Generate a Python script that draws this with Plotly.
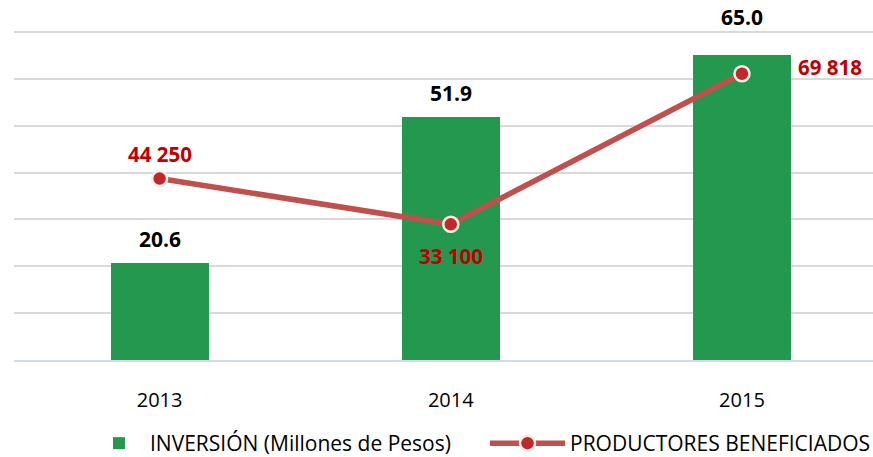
import plotly.graph_objects as go

years = ["2013", "2014", "2015"]
inversion = [20.6, 51.9, 65.0]
productores = [44250, 33100, 69818]
productores_labels = ["44 250", "33 100", "69 818"]
inv_name = "INVERSIÓN (Millones de Pesos)"
prod_name = "PRODUCTORES BENEFICIADOS"

FONT = "Open Sans"
Y_MAX = 70.43
Y2_MAX = 80000 * Y_MAX / 70

fig = go.Figure()
fig.add_trace(go.Bar(
    x=years, y=inversion, name=inv_name, legend="legend",
    marker=dict(color="#25984f", line=dict(width=0)),
    width=0.336,
))
fig.add_trace(go.Scatter(
    x=years, y=productores, name=prod_name, yaxis="y2", legend="legend2",
    mode="lines+markers",
    line=dict(color="#c0504d", width=5.5),
    marker=dict(size=15, color="#c0282d", line=dict(color="#f3efe4", width=2.5)),
))

annotations = []
bar_shift = [8, 8, 22]
for i, (v, s) in enumerate(zip(inversion, bar_shift)):
    annotations.append(dict(x=i, y=v, xref="x", yref="y", text=f"<b>{v:.1f}</b>",
                            showarrow=False, yanchor="bottom", yshift=s,
                            font=dict(family=FONT, size=21, color="#000000")))
label_pos = [dict(yanchor="bottom", yshift=9, xshift=0, xanchor="center"),
             dict(yanchor="top", yshift=-16, xshift=0, xanchor="center"),
             dict(yanchor="middle", yshift=7, xshift=54, xanchor="left")]
for i, (v, t, p) in enumerate(zip(productores, productores_labels, label_pos)):
    annotations.append(dict(x=i, y=v, xref="x", yref="y2", text=f"<b>{t}</b>",
                            showarrow=False,
                            font=dict(family=FONT, size=20.5, color="#c00000"),
                            yanchor=p["yanchor"], yshift=p["yshift"],
                            xanchor=p["xanchor"], xshift=p["xshift"]))

legend_font = dict(family=FONT, size=21, color="#000000")
fig.update_layout(
    annotations=annotations,
    width=873, height=457,
    margin=dict(l=14, r=0, t=30, b=97, autoexpand=False),
    paper_bgcolor="white", plot_bgcolor="white",
    font=dict(family=FONT, size=18, color="#000000"),
    showlegend=True,
    legend=dict(orientation="h", x=(88 - 14) / 859, xanchor="left", y=-0.253, yanchor="middle",
                font=legend_font, itemwidth=52, bgcolor="rgba(0,0,0,0)"),
    legend2=dict(orientation="h", x=(485 - 14) / 859, xanchor="left", y=-0.253, yanchor="middle",
                 font=legend_font, itemwidth=75, bgcolor="rgba(0,0,0,0)"),
    xaxis=dict(type="category", range=[-0.5, 2.45], showgrid=False, showline=True,
               linecolor="#d0dcec", linewidth=1.5, ticks="", ticklabelstandoff=21,
               tickfont=dict(family=FONT, size=20, color="#000000")),
    yaxis=dict(range=[0, Y_MAX], dtick=10, showgrid=True, gridcolor="#d9d9d9", gridwidth=1.5,
               showticklabels=False, zeroline=False, ticks=""),
    yaxis2=dict(range=[0, Y2_MAX], overlaying="y", side="right", showgrid=False,
                showticklabels=False, zeroline=False, ticks=""),
    bargap=0,
)

fig.write_html("out.html", config={"displayModeBar": False},
               post_script="document.body.style.margin='0';document.body.style.overflow='hidden';")
